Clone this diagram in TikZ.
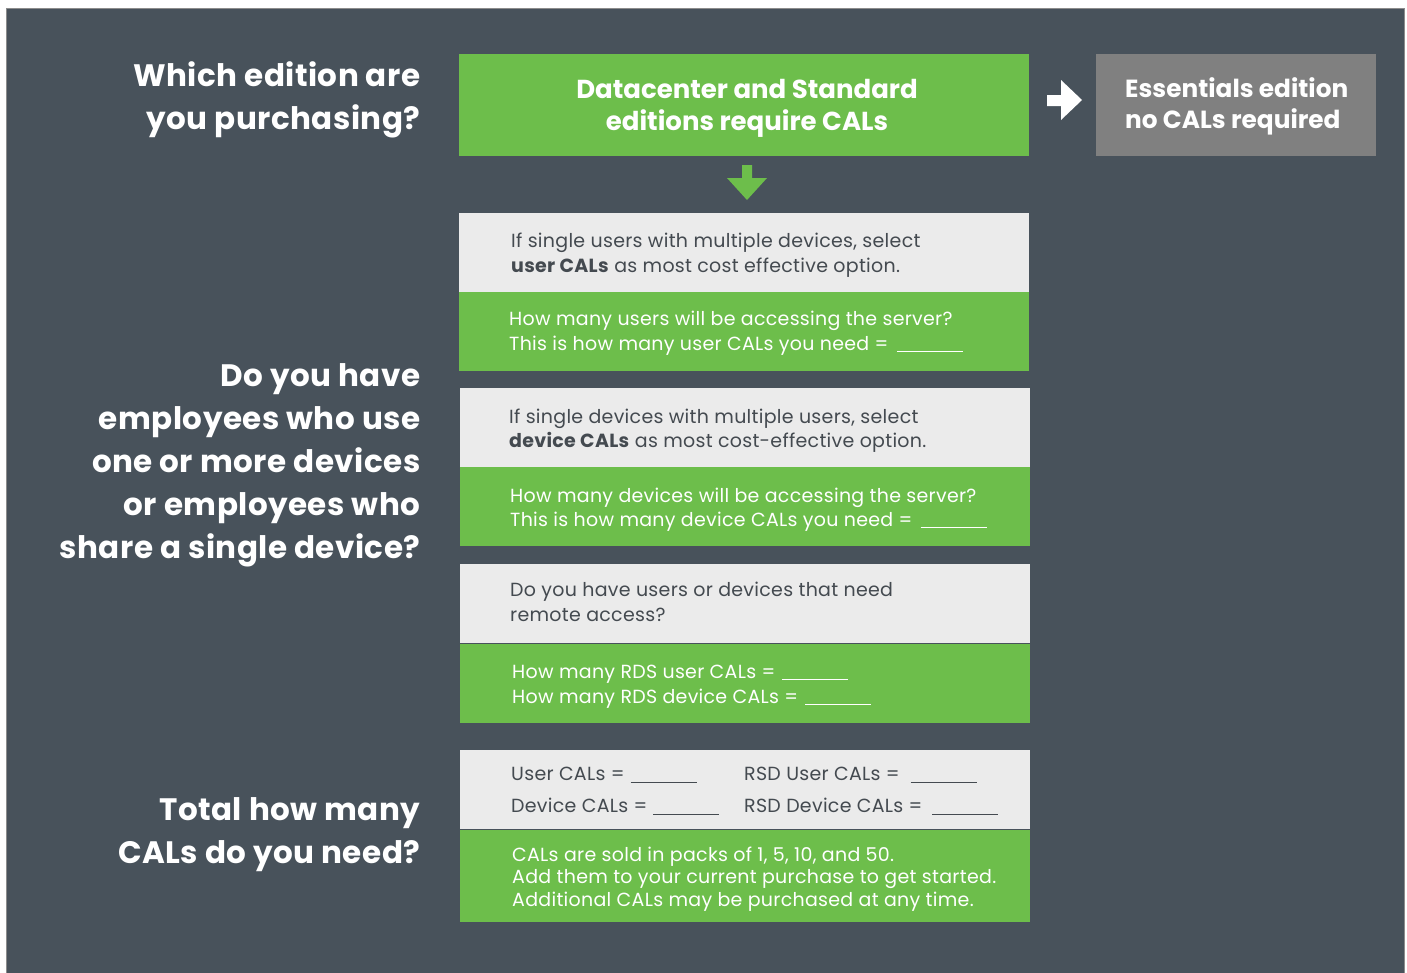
\documentclass[tikz,border=0pt]{standalone}
\usepackage{fontspec}
\setmainfont{Poppins}
\newfontfamily\bodyfont[LetterSpace=1.5]{Poppins}
\newfontfamily\headfont[LetterSpace=1.5]{Poppins}
\definecolor{bg}{RGB}{72,82,91}
\definecolor{grn}{RGB}{109,190,75}
\definecolor{lite}{RGB}{235,235,235}
\definecolor{ess}{RGB}{128,128,128}
\definecolor{dtxt}{RGB}{68,74,80}
\newcommand\blank{\hspace{3pt}\rule[-1.5pt]{66pt}{0.9pt}}
\tikzset{
  panel/.style={rectangle, draw=none, inner sep=0pt, anchor=north west, minimum width=570pt, minimum height=79pt},
  greenpanel/.style={panel, fill=grn},
  litepanel/.style={panel, fill=lite},
  question/.style={anchor=east, align=right, inner sep=0pt, text=white, font=\headfont\fontsize{31}{43}\selectfont\bfseries},
  gtext/.style={anchor=west, align=left, inner sep=0pt, text=white, font=\bodyfont\fontsize{19}{24.5}\selectfont},
  ltext/.style={anchor=west, align=left, inner sep=0pt, text=dtxt, font=\bodyfont\fontsize{19}{24.5}\selectfont},
  headtext/.style={inner sep=0pt, text=white, font=\fontsize{26}{32}\selectfont\bfseries},
}
\begin{document}
\begin{tikzpicture}[x=1pt,y=-1pt]
\useasboundingbox (0,0) rectangle (1407,972);
\fill[white] (0,0) rectangle (1407,972);
\filldraw[fill=bg, draw=gray!90, line width=1pt] (6,8) rectangle (1404,973);

% left questions
\node[question] (q1) at (420.5,100) {Which edition are\\you purchasing?};
\node[question] (q2) at (420.5,465) {Do you have\\employees who use\\one or more devices\\or employees who\\share a single device?};
\node[question] (q3) at (420.5,835) {Total how many\\CALs do you need?};

% top row
\node[panel, fill=grn, minimum height=102pt] (ed) at (459,54) {};
\node[headtext, align=center] (edt) at (747,108) {Datacenter and Standard\\editions require CALs};
\node[panel, fill=ess, minimum width=280pt, minimum height=102pt] (es) at (1096,54) {};
\node[headtext, align=left, anchor=west, font=\fontsize{24.8}{30.5}\selectfont\bfseries] (est) at (1125,106.5) {Essentials edition\\no CALs required};

% arrows
\fill[white] (1047,95) -- (1061,95) -- (1061,80) -- (1082,100) -- (1061,120) -- (1061,106) -- (1047,106) -- cycle;
\fill[grn] (742,165) -- (752,165) -- (752,178) -- (767,178) -- (747,200) -- (727,178) -- (742,178) -- cycle;

% block 1
\node[litepanel] (l1) at (459,213) {};
\node[ltext] (l1t) at (511,255) {If single users with multiple devices, select\\\textbf{user CALs} as most cost effective option.};
\node[greenpanel] (g1) at (459,292) {};
\node[gtext] (g1t) at (509,333) {How many users will be accessing the server?\\This is how many user CALs you need = \blank};

% block 2
\node[litepanel] (l2) at (460,388) {};
\node[ltext] (l2t) at (509,430.5) {If single devices with multiple users, select\\\textbf{device CALs} as most cost-effective option.};
\node[greenpanel] (g2) at (460,467) {};
\node[gtext] (g2t) at (510,509.5) {How many devices will be accessing the server?\\This is how many device CALs you need = \blank};

% block 3
\node[litepanel] (l3) at (460,564) {};
\node[ltext] (l3t) at (510,602) {Do you have users or devices that need\\remote access?};
\node[greenpanel] (g3) at (460,644) {};
\node[gtext] (g3t) at (512,686.5) {How many RDS user CALs =\hspace{4pt}\blank\\How many RDS device CALs =\hspace{4pt}\blank};

% block 4
\node[litepanel] (l4) at (460,750) {};
\node[ltext, font=\bodyfont\fontsize{19}{32}\selectfont] (l4a) at (511,791) {User CALs =\hspace{3pt}\blank\\Device CALs =\hspace{3pt}\blank};
\node[ltext, font=\bodyfont\fontsize{19}{32}\selectfont] (l4b) at (744,791) {RSD User CALs =\hspace{8pt}\blank\\RSD Device CALs =\hspace{7pt}\blank};
\node[greenpanel, minimum height=92pt] (g4) at (460,830) {};
\node[gtext, font=\bodyfont\fontsize{19}{22.5}\selectfont] (g4t) at (512,879) {CALs are sold in packs of 1, 5, 10, and 50.\\Add them to your current purchase to get started.\\Additional CALs may be purchased at any time.};
\end{tikzpicture}
\end{document}
